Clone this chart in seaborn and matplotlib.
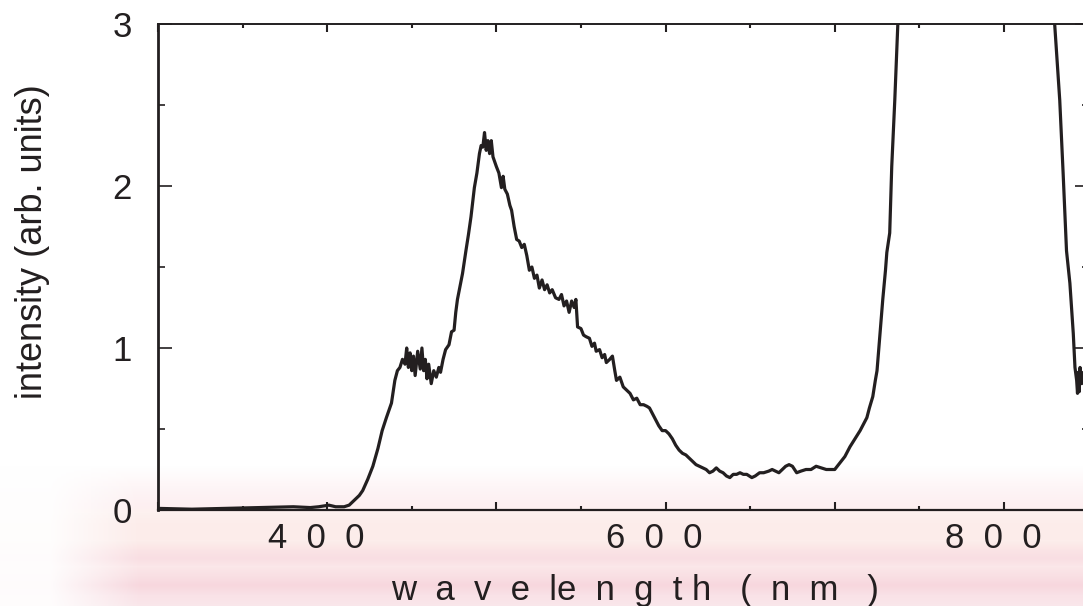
import numpy as np
import matplotlib
matplotlib.use("Agg")
import matplotlib.pyplot as plt
from matplotlib.transforms import ScaledTranslation
from matplotlib.ticker import MultipleLocator, FixedLocator, NullFormatter
import matplotlib.colors as mcolors
import seaborn as sns

# ---------------- data ----------------
wavelength = [
    300, 320, 340, 360, 380, 390, 395, 401, 405, 410, 413,
    416, 419, 421, 424, 427, 430, 432.5, 435, 438, 440, 441.5, 443, 444.5, 446,
    447, 448, 449, 450, 451, 452, 453.5, 455, 456, 457, 458, 459, 460, 461.5,
    463, 464.5, 466, 467, 468.5, 470, 472, 473.5, 475, 476, 477, 478.5, 480,
    482, 483.5, 485, 486, 487, 488.5, 490, 491, 492, 493, 494, 495, 496, 497,
    498, 499, 500, 501.5, 503, 504, 505, 506.5, 508, 509, 510.5, 512, 513.5,
    515, 516.5, 518, 519.5, 521, 522.5, 524, 525.4, 527, 528.5, 530, 531.5,
    533, 535, 537, 538.5, 540, 541.5, 543, 544.5, 546, 547, 548, 550, 551.5,
    553, 555, 556.5, 558, 559, 561, 562.5, 564, 565, 567, 568.6, 570, 571,
    573, 575, 577, 579, 581, 583, 585, 587, 589, 590.5, 592, 594, 596, 598,
    600, 602, 604, 606, 608, 610, 612, 614, 616, 618, 620, 622, 624, 626, 628,
    630, 632, 634, 636, 638, 640, 642, 644, 646, 648, 651, 653, 655.6, 658,
    661, 663, 665, 667, 669, 671, 673, 675, 677.5, 680, 683, 686, 689, 692,
    695, 697, 700, 703, 706, 709, 712, 715, 717, 719, 720.5, 722.5, 724, 725,
    726.6, 728.4, 730, 730.8, 732.5, 733.7, 735.5, 736.7, 737.3, 738, 745,
    760, 785, 810, 825, 829, 830, 833, 835, 837, 839, 841, 842, 843, 843.5,
    844, 844.5, 845, 846, 847, 850,
]
intensity = [
    0.01, 0.005, 0.01, 0.015, 0.02, 0.015, 0.02, 0.03, 0.02, 0.02, 0.03,
    0.06, 0.09, 0.12, 0.19, 0.27, 0.38, 0.49, 0.57, 0.66, 0.80, 0.86, 0.88, 0.93, 0.90,
    1.00, 0.88, 0.97, 0.86, 0.95, 0.83, 0.98, 0.87, 1.00, 0.86, 0.93, 0.81, 0.90, 0.78,
    0.86, 0.82, 0.88, 0.85, 0.93, 0.99, 1.02, 1.10, 1.11, 1.22, 1.30, 1.38, 1.46,
    1.60, 1.70, 1.81, 1.90, 1.99, 2.08, 2.20, 2.25, 2.24, 2.33, 2.22, 2.28, 2.20, 2.28,
    2.18, 2.15, 2.12, 2.08, 1.99, 2.06, 1.98, 1.95, 1.88, 1.85, 1.75, 1.67, 1.66,
    1.62, 1.64, 1.57, 1.48, 1.50, 1.43, 1.45, 1.37, 1.42, 1.36, 1.39, 1.34,
    1.36, 1.31, 1.30, 1.33, 1.26, 1.29, 1.22, 1.29, 1.25, 1.30, 1.13, 1.12, 1.08,
    1.07, 1.06, 1.01, 1.03, 0.98, 0.99, 0.94, 0.96, 0.91, 0.93, 0.95, 0.86, 0.80,
    0.82, 0.76, 0.74, 0.72, 0.68, 0.69, 0.65, 0.65, 0.64, 0.63, 0.60, 0.56, 0.52, 0.49,
    0.49, 0.47, 0.44, 0.40, 0.37, 0.35, 0.34, 0.32, 0.30, 0.28, 0.27, 0.26, 0.25, 0.23, 0.24,
    0.26, 0.24, 0.23, 0.21, 0.20, 0.22, 0.22, 0.23, 0.22, 0.22, 0.20, 0.21, 0.23, 0.23,
    0.24, 0.25, 0.24, 0.23, 0.25, 0.27, 0.28, 0.27, 0.23, 0.24, 0.25, 0.25, 0.27, 0.26,
    0.25, 0.25, 0.25, 0.29, 0.33, 0.39, 0.44, 0.49, 0.53, 0.57, 0.63, 0.70, 0.80, 0.86,
    1.07, 1.30, 1.48, 1.59, 1.71, 2.12, 2.53, 2.84, 3.00, 3.10, 5.0,
    8.0, 12.0, 8.0, 4.0, 3.15, 3.00, 2.53, 2.08, 1.60, 1.40, 1.09, 0.88, 0.80, 0.72,
    0.85, 0.73, 0.88, 0.78, 0.85, 0.80,
]

x_major = [300, 400, 500, 600, 700, 800]
x_labels = ["", "4  0  0", "", "6  0  0", "", "8  0  0"]
y_major = [0, 1, 2, 3]
y_labels = ["0", "1", "2", "3"]
x_title = "w  a  v  e  le  n  g  t h   (  n  m   )"
y_title = "intensity (arb. units)"

# ---------------- styling ----------------
sns.set_theme(style="white")
plt.rcParams["font.family"] = ["Liberation Sans", "DejaVu Sans"]
ink = "#231f20"

W, H = 1083, 606
fig = plt.figure(figsize=(W / 100, H / 100), dpi=100)
fig.patch.set_facecolor("white")

# soft pink scanned-paper band at the bottom
bg = fig.add_axes([0, 0, 1, 1], zorder=0)
bg.axis("off")
anc_y = [0, 465, 485, 505, 512, 525, 540, 548, 558, 566, 575, 585, 595, 606]
anc_c = ["#ffffff", "#ffffff", "#fef6f7", "#fdeff1", "#fdf1ef", "#fcecea", "#fcedeb",
         "#fbe5e6", "#f9dee3", "#fbe7e9", "#f9e0e4", "#f7d7de", "#f9e2e7", "#fae7eb"]
rgb = np.array([mcolors.to_rgb(c) for c in anc_c])
rows = np.arange(H)
col = np.stack([np.interp(rows, anc_y, rgb[:, k]) for k in range(3)], axis=1)
img = np.ones((H, W, 4))
img[:, :, :3] = col[:, None, :]
xs = np.arange(W)
ax_alpha = np.clip((xs - 40) / 100.0, 0.1, 1.0)
img[:, :, 3] = ax_alpha[None, :]
bg.imshow(img, extent=(0, 1, 0, 1), aspect="auto", origin="upper", interpolation="bilinear")
bg.set_xlim(0, 1)
bg.set_ylim(0, 1)

# main axes: left spine x=158, bottom y=510, top y=24, right spine just off-canvas
left, right, top, bottom = 158, 1088.5, 24, 510
ax = fig.add_axes([left / W, 1 - bottom / H, (right - left) / W, (bottom - top) / H], zorder=1)
ax.set_facecolor("none")

sns.lineplot(x=wavelength, y=intensity, ax=ax, color=ink, linewidth=2.3,
             estimator=None, sort=False)

ax.set_xlim(300, 850)
ax.set_ylim(0, 3)

ax.xaxis.set_major_locator(FixedLocator(x_major))
ax.set_xticklabels(x_labels)
ax.xaxis.set_minor_locator(MultipleLocator(50))
ax.yaxis.set_major_locator(FixedLocator(y_major))
ax.set_yticklabels(y_labels)
ax.yaxis.set_minor_locator(MultipleLocator(0.5))
ax.yaxis.set_minor_formatter(NullFormatter())
ax.xaxis.set_minor_formatter(NullFormatter())

ax.tick_params(axis="x", which="major", direction="in", length=6, width=1.5,
               color=ink, top=True, bottom=True, labelsize=25, labelcolor=ink, pad=9)
ax.tick_params(axis="x", which="minor", direction="in", length=3, width=1.5,
               color=ink, top=True, bottom=True)
ax.tick_params(axis="y", which="major", direction="in", length=10, width=1.2,
               color=ink, left=True, right=True, labelsize=25, labelcolor=ink, pad=19)
ax.tick_params(axis="y", which="minor", direction="in", length=5, width=1.2,
               color=ink, left=True, right=True)

for s in ax.spines.values():
    s.set_color(ink)
    s.set_linewidth(1.4)
ax.spines["left"].set_linewidth(2.0)
ax.spines["bottom"].set_linewidth(1.6)

shift = ScaledTranslation(-11 / 100, 0, fig.dpi_scale_trans)
for lbl in ax.get_xticklabels():
    lbl.set_transform(lbl.get_transform() + shift)

ax.set_xlabel("")
ax.set_ylabel("")
fig.text(635 / W, 1 - 600 / H, x_title, ha="center", va="baseline",
         fontsize=25, color=ink)
fig.text(33 / W, 1 - 242 / H, y_title, ha="center", va="center",
         rotation=90, fontsize=26, color=ink)

fig.savefig("out.png", dpi=100)
